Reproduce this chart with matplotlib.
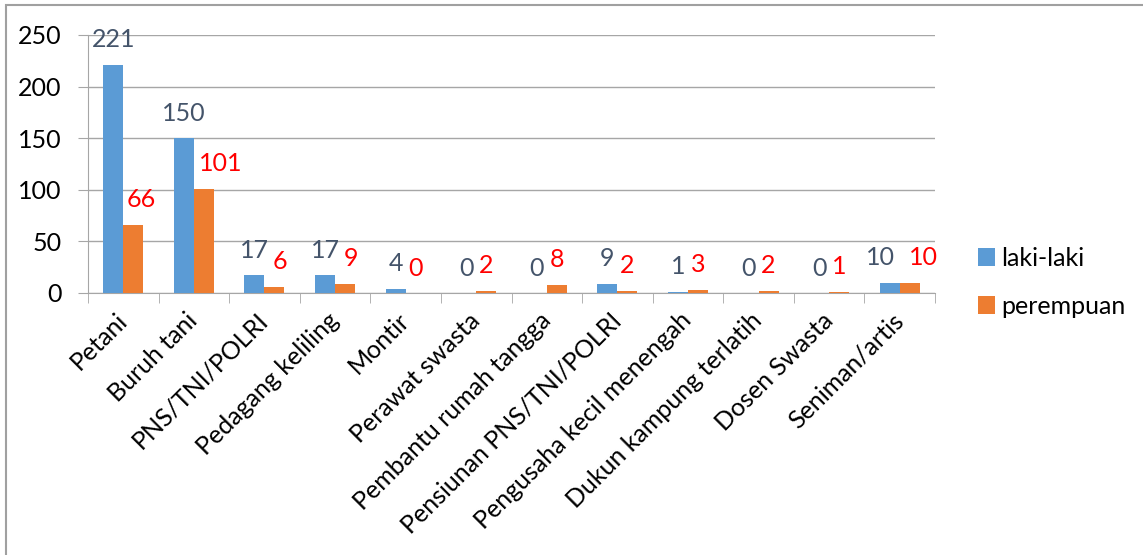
import numpy as np
import matplotlib.pyplot as plt
from matplotlib.patches import Rectangle

# Data
categories = ["Petani", "Buruh tani", "PNS/TNI/POLRI", "Pedagang keliling", "Montir",
              "Perawat swasta", "Pembantu rumah tangga", "Pensiunan PNS/TNI/POLRI",
              "Pengusaha kecil menengah", "Dukun kampung terlatih", "Dosen Swasta",
              "Seniman/artis"]
laki_laki = [221, 150, 17, 17, 4, 0, 0, 9, 1, 0, 0, 10]
perempuan = [66, 101, 6, 9, 0, 2, 8, 2, 3, 2, 1, 10]
y_ticks = [0, 50, 100, 150, 200, 250]

blue = "#5B9BD5"
orange = "#ED7D31"
grid_col = "#A6A6A6"
fs = 18

plt.rcParams["font.family"] = ["Lato", "DejaVu Sans"]

fig = plt.figure(figsize=(11.43, 5.55), dpi=100)
ax = fig.add_axes([88 / 1143, 1 - 293 / 555, (935 - 88) / 1143, (293 - 35) / 555])

x = np.arange(len(categories))
w = 0.283
ax.bar(x - w / 2, laki_laki, w, color=blue, label="laki-laki", zorder=3)
ax.bar(x + w / 2, perempuan, w, color=orange, label="perempuan", zorder=3)

# value labels (nudged apart when a wide label sits next to another at similar height)
for i in range(len(categories)):
    s1, s2 = str(laki_laki[i]), str(perempuan[i])
    near = len(s1) > 1 and abs(laki_laki[i] - perempuan[i]) < 15
    both_wide = near and len(s2) > 1
    ax.annotate(s1, (x[i] - w / 2, laki_laki[i]), xytext=(-7 if both_wide else 0, 18),
                textcoords="offset points", ha="center", va="center",
                fontsize=fs, color="#44546A")
    ax.annotate(s2, (x[i] + w / 2, perempuan[i]),
                xytext=((len(s2) - 1) * 6 + (4 if near else 0), 18),
                textcoords="offset points", ha="center", va="center",
                fontsize=fs, color="red")

ax.set_xlim(-0.5, len(categories) - 0.5)
ax.set_ylim(0, 250)
ax.set_yticks(y_ticks)
ax.tick_params(axis="y", length=7, color=grid_col, labelsize=fs, pad=12)
ax.yaxis.grid(True, color=grid_col, linewidth=1, zorder=0)

ax.set_xticks(x)
ax.set_xticklabels(categories, rotation=45, ha="right", va="center",
                   rotation_mode="anchor", fontsize=fs)
ax.tick_params(axis="x", which="major", length=0, pad=17)
ax.set_xticks(np.arange(len(categories) + 1) - 0.5, minor=True)
ax.tick_params(axis="x", which="minor", length=7, color=grid_col)

for side in ["top", "right"]:
    ax.spines[side].set_visible(False)
ax.spines["left"].set_color(grid_col)
ax.spines["bottom"].set_color(grid_col)

ax.legend(loc="center left", bbox_to_anchor=(955 / 1143, 1 - 282 / 555),
          bbox_transform=fig.transFigure, frameon=False,
          fontsize=fs, handlelength=0.7, handleheight=0.7, handletextpad=0.25,
          labelspacing=1.0)

# outer chart border (cropped on right/bottom)
fig.patches.append(Rectangle((5.5 / 1143, -0.1), 1.2, 1.1 - 5.5 / 555,
                             transform=fig.transFigure, fill=False,
                             edgecolor="#A0A0A0", linewidth=1.5))

fig.savefig("out.png", dpi=100)
